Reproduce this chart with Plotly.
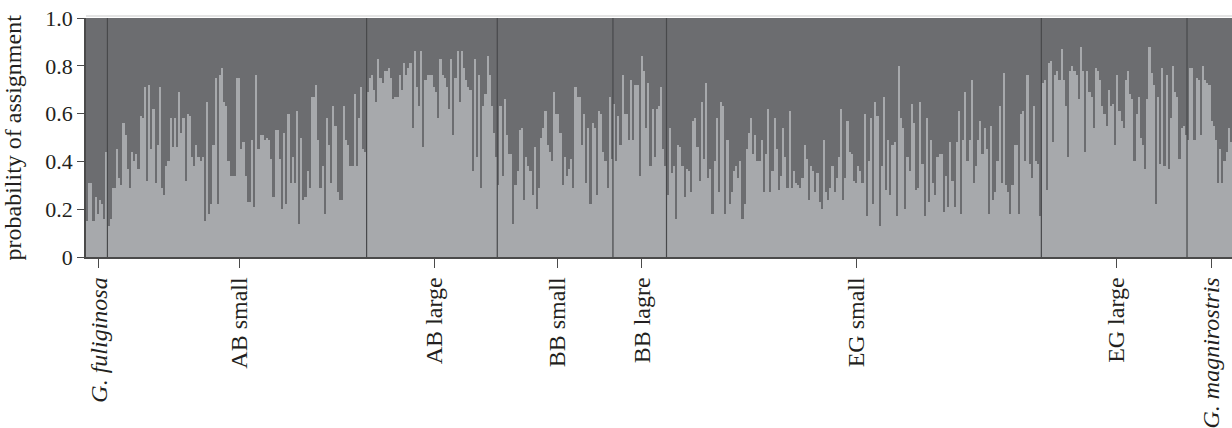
import plotly.graph_objects as go

# ---- data: probability of assignment to the "light" cluster, per individual ----
groups = ["G. fuliginosa", "AB small", "AB large", "BB small", "BB lagre",
          "EG small", "EG large", "G. magnirostris"]
group_labels = ["<i>G. fuliginosa</i>", "AB small", "AB large", "BB small", "BB lagre",
                "EG small", "EG large", "<i>G. magnirostris</i>"]

g_fuliginosa = [0.15, 0.31, 0.31, 0.15, 0.25, 0.18, 0.24, 0.22, 0.16, 0.44]

ab_small = [0.13, 0.16, 0.29, 0.29, 0.45, 0.33, 0.30, 0.56, 0.51, 0.37,
            0.29, 0.44, 0.40, 0.43, 0.37, 0.59, 0.58, 0.71, 0.32, 0.72,
            0.45, 0.62, 0.31, 0.47, 0.71, 0.29, 0.26, 0.38, 0.40, 0.58,
            0.46, 0.58, 0.46, 0.69, 0.52, 0.58, 0.32, 0.60, 0.59, 0.42,
            0.38, 0.47, 0.42, 0.40, 0.42, 0.15, 0.65, 0.18, 0.22, 0.47,
            0.75, 0.22, 0.76, 0.79, 0.65, 0.63, 0.40, 0.34, 0.34, 0.34,
            0.75, 0.75, 0.45, 0.48, 0.34, 0.23, 0.23, 0.49, 0.21, 0.76,
            0.45, 0.51, 0.51, 0.49, 0.50, 0.49, 0.41, 0.25, 0.53, 0.53,
            0.41, 0.20, 0.52, 0.22, 0.60, 0.31, 0.42, 0.31, 0.61, 0.14,
            0.50, 0.24, 0.25, 0.36, 0.29, 0.67, 0.67, 0.72, 0.49, 0.29,
            0.38, 0.18, 0.58, 0.47, 0.31, 0.63, 0.55, 0.27, 0.24, 0.24,
            0.63, 0.49, 0.47, 0.38, 0.38, 0.68, 0.38, 0.58, 0.71, 0.45,
            0.44]

ab_large = [0.69, 0.75, 0.76, 0.70, 0.65, 0.83, 0.75, 0.73, 0.78, 0.78,
            0.79, 0.75, 0.66, 0.67, 0.67, 0.76, 0.70, 0.81, 0.76, 0.79,
            0.81, 0.54, 0.86, 0.71, 0.63, 0.86, 0.46, 0.74, 0.76, 0.76,
            0.76, 0.71, 0.69, 0.58, 0.83, 0.76, 0.75, 0.71, 0.62, 0.83,
            0.51, 0.75, 0.86, 0.65, 0.86, 0.79, 0.74, 0.71, 0.70, 0.36,
            0.83, 0.42, 0.76, 0.29, 0.63, 0.68, 0.84, 0.76, 0.63, 0.52,
            0.42]

bb_small = [0.30, 0.63, 0.34, 0.66, 0.51, 0.43, 0.43, 0.14, 0.30, 0.36,
            0.53, 0.54, 0.24, 0.42, 0.38, 0.36, 0.26, 0.46, 0.20, 0.29,
            0.50, 0.54, 0.61, 0.47, 0.44, 0.40, 0.69, 0.60, 0.60, 0.52,
            0.30, 0.42, 0.34, 0.37, 0.41, 0.29, 0.71, 0.67, 0.67, 0.47,
            0.60, 0.31, 0.54, 0.22, 0.56, 0.54, 0.26, 0.61, 0.60, 0.44,
            0.40, 0.29, 0.67, 0.41]

bb_lagre = [0.64, 0.40, 0.59, 0.47, 0.76, 0.60, 0.60, 0.49, 0.74, 0.49,
            0.72, 0.72, 0.34, 0.84, 0.78, 0.54, 0.73, 0.38, 0.62, 0.42,
            0.62, 0.63, 0.71, 0.45, 0.38]

eg_small = [0.26, 0.54, 0.35, 0.38, 0.16, 0.47, 0.46, 0.38, 0.25, 0.37,
            0.36, 0.27, 0.57, 0.58, 0.46, 0.32, 0.65, 0.41, 0.73, 0.33,
            0.37, 0.18, 0.40, 0.58, 0.27, 0.65, 0.63, 0.18, 0.49,
            0.22, 0.27, 0.36, 0.38, 0.33, 0.40, 0.16, 0.22, 0.45,
            0.52, 0.58, 0.43, 0.51, 0.40, 0.40, 0.49, 0.27, 0.43,
            0.62, 0.27, 0.36, 0.58, 0.45, 0.28, 0.34, 0.54, 0.42, 0.29,
            0.61, 0.29, 0.36, 0.31, 0.30, 0.29, 0.33, 0.47, 0.41,
            0.24, 0.38, 0.36, 0.27, 0.35, 0.23, 0.20, 0.49, 0.27, 0.24,
            0.29, 0.38, 0.27, 0.33, 0.42, 0.62, 0.24, 0.33, 0.57, 0.44,
            0.43, 0.32, 0.31, 0.38, 0.36, 0.31, 0.60, 0.17, 0.40, 0.58,
            0.22, 0.65, 0.59, 0.13, 0.38, 0.67, 0.28, 0.49, 0.26, 0.47,
            0.48, 0.17, 0.80, 0.58, 0.54, 0.20, 0.42, 0.36, 0.64,
            0.56, 0.28, 0.29, 0.65, 0.39, 0.17, 0.58, 0.23, 0.49, 0.31,
            0.26, 0.42, 0.43, 0.43, 0.19, 0.34, 0.21, 0.48, 0.32, 0.21,
            0.48, 0.61, 0.18, 0.49, 0.69, 0.40, 0.49, 0.74, 0.31,
            0.38, 0.49, 0.57, 0.43, 0.54, 0.45, 0.18, 0.55, 0.24, 0.27,
            0.40, 0.63, 0.31, 0.77, 0.30, 0.27, 0.18, 0.30, 0.47, 0.47,
            0.18, 0.60, 0.61, 0.40, 0.76, 0.39, 0.33, 0.63, 0.40,
            0.39, 0.17]

eg_large = [0.73, 0.74, 0.28, 0.81, 0.82, 0.48, 0.76, 0.78, 0.74,
            0.87, 0.74, 0.63, 0.42, 0.78, 0.80, 0.78, 0.76, 0.66,
            0.88, 0.78, 0.44, 0.78, 0.69, 0.67, 0.54, 0.79, 0.78, 0.74,
            0.63, 0.60, 0.55, 0.70, 0.63, 0.64, 0.47, 0.76, 0.61, 0.57,
            0.54, 0.74, 0.78, 0.68, 0.66, 0.40, 0.60, 0.67, 0.50,
            0.47, 0.37, 0.66, 0.88, 0.77, 0.72, 0.22, 0.67, 0.39, 0.79,
            0.38, 0.76, 0.37, 0.58, 0.80, 0.69, 0.67, 0.41, 0.54,
            0.55, 0.51]

g_magnirostris = [0.49, 0.79, 0.79, 0.49, 0.75, 0.74, 0.51, 0.80, 0.74, 0.73,
                  0.72, 0.57, 0.55, 0.49, 0.31, 0.45, 0.31, 0.40, 0.44, 0.54,
                  0.48]

group_values = [g_fuliginosa, ab_small, ab_large, bb_small, bb_lagre,
                eg_small, eg_large, g_magnirostris]

y_ticks = [0, 0.2, 0.4, 0.6, 0.8, 1.0]
y_ticktext = ["0", "0.2", "0.4", "0.6", "0.8", "1.0"]
y_title = "probability of assignment"

# ---- build ----
light = []
for vals in group_values:
    light.extend(vals)
dark = [1 - v for v in light]
n = len(light)
xs = list(range(n))

LIGHT = "#a7a9ac"
DARK = "#6c6d70"
SEP = "#48494b"
AX = "#4a4a4a"
FONT = "Liberation Serif"
TXT = "#231f20"

fig = go.Figure()
fig.add_trace(go.Bar(x=xs, y=light, marker=dict(color=LIGHT, line=dict(width=0)),
                     width=1.0, showlegend=False, hoverinfo="skip"))
fig.add_trace(go.Bar(x=xs, y=dark, marker=dict(color=DARK, line=dict(width=0)),
                     width=1.0, showlegend=False, hoverinfo="skip"))

# group boundaries and centres
centres = []
boundaries = []
start = 0
for vals in group_values:
    centres.append(start + (len(vals) - 1) / 2 + 1)
    start += len(vals)
    boundaries.append(start - 0.5)

shapes = []
for b in boundaries[:-1]:
    shapes.append(dict(type="line", xref="x", yref="y", x0=b, x1=b, y0=0, y1=1,
                       line=dict(color=SEP, width=1.2), layer="above"))
# faint top rule
shapes.append(dict(type="line", xref="paper", yref="paper", x0=0, x1=1, y0=1.008, y1=1.008,
                   line=dict(color="#e4e4e4", width=2)))

fig.update_layout(
    width=1232, height=428,
    margin=dict(l=86, r=0, t=18, b=169),
    barmode="stack", bargap=0,
    plot_bgcolor="white", paper_bgcolor="white",
    font=dict(family=FONT, color=TXT),
    shapes=shapes,
    annotations=[dict(text=y_title, xref="paper", yref="paper", x=-0.0637, y=0.5,
                      xanchor="center", yanchor="middle", textangle=-90, showarrow=False,
                      font=dict(family=FONT, size=24, color=TXT))],
    xaxis=dict(range=[-0.5, n - 0.5], tickvals=centres, ticktext=group_labels,
               tickangle=-90, ticks="outside", ticklen=9, tickcolor=AX, tickwidth=1.2,
               showline=True, linecolor=AX, linewidth=1.5, showgrid=False, zeroline=False,
               tickfont=dict(family=FONT, size=24, color=TXT)),
    yaxis=dict(range=[0, 1], tickvals=y_ticks, ticktext=y_ticktext,
               ticks="outside", ticklen=7, tickcolor=AX, tickwidth=1.2,
               showline=True, linecolor=AX, linewidth=1.5, showgrid=False, zeroline=False,
               tickfont=dict(family=FONT, size=22, color=TXT)),
)

fig.write_html("out.html", config={"displayModeBar": False},
               post_script="document.body.style.margin='0';")
